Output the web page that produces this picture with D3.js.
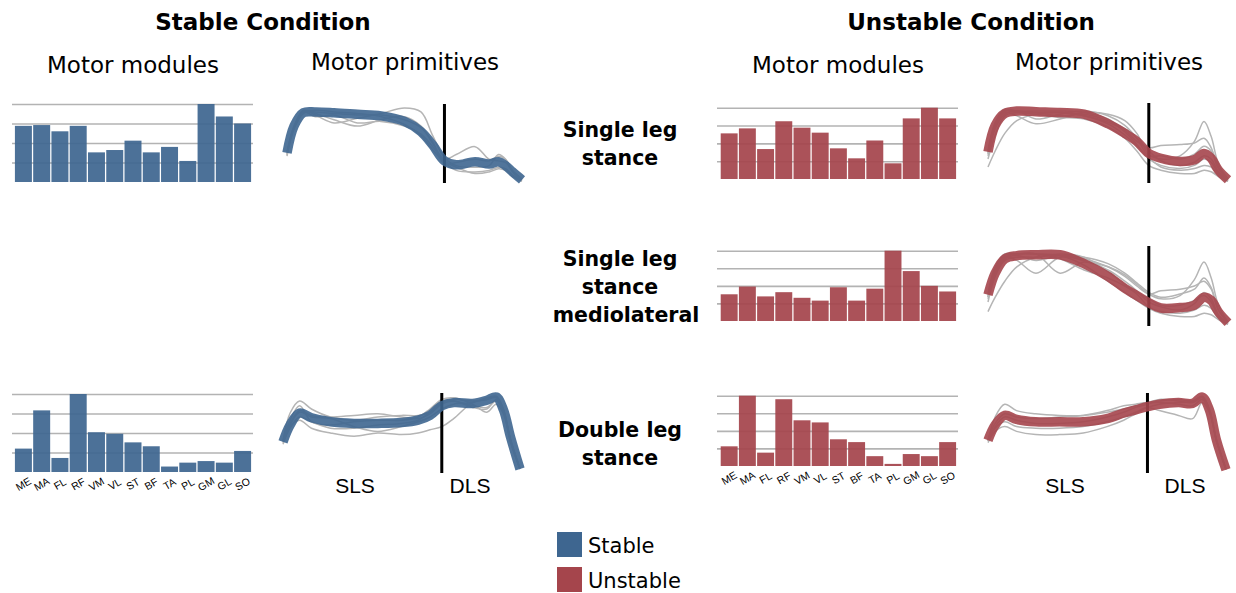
<!DOCTYPE html>
<html>
<head>
<meta charset="utf-8">
<script src="https://cdn.jsdelivr.net/npm/d3@7"></script>
<style>
  body { margin: 0; background: #fff; }
  text { fill: #000; }
</style>
</head>
<body>
<script>
// muscle names on the module bars
const muscles = ["ME","MA","FL","RF","VM","VL","ST","BF","TA","PL","GM","GL","SO"];

// motor module weights (max = 1)
const stableSLSModules   = [0.72,0.73,0.65,0.72,0.38,0.41,0.53,0.38,0.45,0.27,1.00,0.84,0.75];
const stableDLSModules   = [0.30,0.79,0.18,1.00,0.51,0.49,0.38,0.33,0.07,0.12,0.14,0.12,0.27];
const unstableSLSModules = [0.64,0.71,0.42,0.81,0.72,0.65,0.43,0.29,0.54,0.22,0.85,1.00,0.85];
const unstableMLModules  = [0.38,0.49,0.35,0.41,0.33,0.29,0.48,0.29,0.46,1.00,0.71,0.50,0.42];
const unstableDLSModules = [0.28,1.00,0.19,0.95,0.65,0.62,0.38,0.34,0.14,0.03,0.17,0.14,0.34];

// normalised time for the motor primitives, SLS -> DLS switch
const timeGrid = [0,0.03,0.07,0.12,0.2,0.3,0.4,0.5,0.57,0.62,0.67,0.72,0.8,0.86,0.9,0.93,0.96,1.0];
const phaseSwitch = 0.67;

// mean primitives
const stableSLSPrimitive   = [0.38,0.72,0.89,0.90,0.89,0.87,0.85,0.78,0.65,0.48,0.28,0.23,0.27,0.24,0.27,0.22,0.14,0.04];
const stableDLSPrimitive   = [0.39,0.60,0.75,0.69,0.64,0.62,0.62,0.63,0.66,0.72,0.84,0.88,0.87,0.91,0.95,0.79,0.45,0.05];
const unstableSLSPrimitive = [0.39,0.72,0.87,0.90,0.89,0.88,0.86,0.74,0.62,0.52,0.37,0.31,0.27,0.29,0.37,0.31,0.16,0.04];
const unstableMLPrimitive  = [0.39,0.66,0.84,0.88,0.89,0.89,0.78,0.62,0.47,0.38,0.29,0.225,0.23,0.26,0.36,0.32,0.175,0.04];
const unstableDLSPrimitive = [0.41,0.60,0.72,0.67,0.64,0.64,0.64,0.68,0.75,0.79,0.83,0.86,0.88,0.87,0.95,0.79,0.41,0.04];

// single-subject primitives (grey)
const stableSLSTrials = [
  [0.36,0.70,0.90,0.88,0.80,0.72,0.80,0.84,0.72,0.50,0.30,0.36,0.46,0.30,0.28,0.26,0.15,0.05],
  [0.40,0.72,0.92,0.86,0.76,0.82,0.88,0.95,0.90,0.60,0.32,0.22,0.20,0.22,0.36,0.30,0.14,0.04],
  [0.34,0.68,0.88,0.92,0.90,0.88,0.84,0.74,0.60,0.42,0.26,0.16,0.14,0.16,0.20,0.18,0.10,0.03],
  [0.38,0.70,0.90,0.84,0.86,0.76,0.78,0.72,0.62,0.46,0.28,0.20,0.12,0.14,0.18,0.16,0.08,0.02],
  [0.36,0.72,0.91,0.90,0.88,0.86,0.86,0.80,0.70,0.52,0.24,0.26,0.30,0.28,0.34,0.30,0.16,0.05]
];
const stableDLSTrials = [
  [0.40,0.75,0.90,0.80,0.70,0.66,0.70,0.72,0.72,0.76,0.88,0.92,0.90,0.92,0.95,0.80,0.42,0.05],
  [0.38,0.58,0.66,0.56,0.50,0.46,0.50,0.48,0.50,0.54,0.58,0.68,0.88,0.92,0.94,0.78,0.40,0.05],
  [0.40,0.62,0.78,0.72,0.70,0.72,0.74,0.70,0.68,0.74,0.86,0.90,0.82,0.80,0.92,0.78,0.42,0.06],
  [0.36,0.56,0.70,0.64,0.56,0.56,0.60,0.62,0.66,0.76,0.90,0.90,0.84,0.82,0.90,0.76,0.40,0.05],
  [0.38,0.60,0.76,0.70,0.68,0.58,0.52,0.58,0.64,0.70,0.80,0.86,0.88,0.94,0.96,0.80,0.42,0.06],
  [0.40,0.66,0.84,0.64,0.60,0.64,0.66,0.66,0.70,0.80,0.92,0.94,0.86,0.76,0.86,0.74,0.38,0.05]
];
const unstableSLSTrials = [
  [0.20,0.40,0.62,0.78,0.86,0.88,0.84,0.76,0.66,0.52,0.44,0.47,0.48,0.50,0.56,0.44,0.20,0.05],
  [0.36,0.70,0.88,0.84,0.74,0.80,0.88,0.86,0.78,0.62,0.36,0.30,0.34,0.52,0.77,0.58,0.24,0.05],
  [0.38,0.74,0.90,0.88,0.86,0.82,0.80,0.70,0.56,0.40,0.22,0.16,0.12,0.12,0.16,0.14,0.08,0.02],
  [0.40,0.76,0.92,0.90,0.90,0.90,0.88,0.80,0.64,0.48,0.30,0.22,0.18,0.22,0.30,0.26,0.12,0.03],
  [0.34,0.68,0.86,0.90,0.80,0.86,0.90,0.84,0.72,0.56,0.34,0.34,0.30,0.36,0.46,0.40,0.18,0.04],
  [0.30,0.60,0.84,0.88,0.88,0.84,0.86,0.78,0.68,0.56,0.40,0.28,0.22,0.26,0.34,0.30,0.14,0.03],
  [0.38,0.72,0.90,0.90,0.88,0.88,0.84,0.74,0.60,0.46,0.32,0.20,0.16,0.18,0.22,0.20,0.10,0.02]
];
const unstableMLTrials = [
  [0.18,0.36,0.56,0.74,0.86,0.88,0.84,0.74,0.62,0.50,0.40,0.44,0.46,0.50,0.56,0.46,0.20,0.05],
  [0.36,0.70,0.86,0.82,0.66,0.86,0.82,0.74,0.64,0.52,0.40,0.34,0.38,0.58,0.80,0.60,0.26,0.05],
  [0.38,0.72,0.88,0.90,0.90,0.88,0.76,0.56,0.42,0.32,0.22,0.16,0.12,0.12,0.16,0.14,0.08,0.02],
  [0.40,0.74,0.90,0.90,0.90,0.66,0.80,0.70,0.56,0.44,0.30,0.24,0.20,0.28,0.42,0.34,0.14,0.03],
  [0.34,0.66,0.84,0.88,0.82,0.88,0.86,0.78,0.66,0.54,0.42,0.36,0.40,0.46,0.60,0.48,0.20,0.04],
  [0.36,0.68,0.86,0.90,0.90,0.84,0.70,0.60,0.50,0.40,0.24,0.18,0.16,0.20,0.26,0.22,0.10,0.02],
  [0.30,0.62,0.82,0.86,0.86,0.90,0.86,0.68,0.52,0.42,0.34,0.26,0.26,0.32,0.38,0.30,0.12,0.03]
];
const unstableDLSTrials = [
  [0.40,0.70,0.86,0.78,0.74,0.72,0.72,0.76,0.80,0.84,0.88,0.92,0.90,0.88,0.94,0.78,0.40,0.04],
  [0.38,0.52,0.58,0.52,0.48,0.48,0.50,0.58,0.66,0.74,0.82,0.86,0.88,0.90,0.95,0.80,0.42,0.05],
  [0.40,0.56,0.64,0.58,0.56,0.56,0.58,0.64,0.70,0.76,0.82,0.78,0.72,0.68,0.88,0.76,0.40,0.04],
  [0.42,0.62,0.74,0.70,0.68,0.70,0.72,0.78,0.84,0.86,0.88,0.88,0.86,0.84,0.92,0.78,0.40,0.05],
  [0.40,0.58,0.70,0.66,0.62,0.62,0.64,0.70,0.76,0.82,0.86,0.90,0.92,0.90,0.96,0.80,0.42,0.05]
];

const stableColor = "#3e6690";
const unstableColor = "#a5454c";

const svg = d3.select("body").append("svg")
    .attr("width", 1236)
    .attr("height", 593)
    .style("font-family", "'DejaVu Sans', Verdana, sans-serif");

function drawModules(values, box, color, showLabels) {
    const x = d3.scaleBand()
        .domain(muscles)
        .range([box.x0, box.x1])
        .paddingInner(0.07)
        .paddingOuter(0.05);
    const y = d3.scaleLinear().domain([0, 1]).range([box.base, box.top]);

    const g = svg.append("g");
    g.append("g")
        .attr("transform", `translate(${box.gx0},0)`)
        .call(d3.axisLeft(y)
            .tickValues([0.25, 0.5, 0.75, 1])
            .tickSize(-(box.gx1 - box.gx0))
            .tickFormat(""))
        .call(a => a.select(".domain").remove())
        .call(a => a.selectAll("line").attr("stroke", "#b3b3b3").attr("stroke-width", 1.6));

    g.selectAll("rect")
        .data(values)
        .enter()
        .append("rect")
        .attr("x", (d, i) => x(muscles[i]))
        .attr("width", x.bandwidth())
        .attr("y", d => y(d))
        .attr("height", d => y(0) - y(d))
        .attr("fill", color)
        .attr("fill-opacity", 0.93);

    if (showLabels) {
        g.append("g")
            .attr("transform", `translate(0,${box.base})`)
            .call(d3.axisBottom(x).tickSize(0))
            .call(a => a.select(".domain").remove())
            .selectAll("text")
            .attr("y", 0)
            .attr("dy", "0.35em")
            .attr("transform", "translate(0,12) rotate(-30)")
            .attr("text-anchor", "middle")
            .style("font-family", "'Liberation Sans', Arial, sans-serif")
            .style("font-size", "10.5px")
            .attr("fill", "#000");
    }
}

function drawPrimitive(mean, trials, box, color) {
    const x = d3.scaleLinear().domain([0, 1]).range([box.x0, box.x1]);
    const y = d3.scaleLinear().domain([0, 1]).range([box.bottom, box.top]);
    const line = d3.line()
        .x((d, i) => x(timeGrid[i]))
        .y(d => y(d))
        .curve(d3.curveCatmullRom.alpha(0.5));

    const g = svg.append("g");
    g.selectAll("path.trial")
        .data(trials)
        .enter()
        .append("path")
        .attr("class", "trial")
        .attr("d", line)
        .attr("fill", "none")
        .attr("stroke", "#b5b5b5")
        .attr("stroke-width", 1.5);

    g.append("line")
        .attr("x1", x(phaseSwitch)).attr("x2", x(phaseSwitch))
        .attr("y1", y(1)).attr("y2", y(0))
        .attr("stroke", "#000")
        .attr("stroke-width", 3);

    g.append("path")
        .attr("d", line(mean))
        .attr("fill", "none")
        .attr("stroke", color)
        .attr("stroke-opacity", 0.9)
        .attr("stroke-width", 9.5);
}

// stable column
drawModules(stableSLSModules, {x0: 14, x1: 252, gx0: 12, gx1: 253, top: 104, base: 182}, stableColor, false);
drawModules(stableDLSModules, {x0: 14, x1: 252, gx0: 12, gx1: 253, top: 394, base: 472}, stableColor, true);
drawPrimitive(stableSLSPrimitive, stableSLSTrials, {x0: 287, x1: 522, top: 104, bottom: 183}, stableColor);
drawPrimitive(stableDLSPrimitive, stableDLSTrials, {x0: 283, x1: 520, top: 393, bottom: 473}, stableColor);

// unstable column
drawModules(unstableSLSModules, {x0: 719.8, x1: 957, gx0: 717, gx1: 958, top: 107.7, base: 179}, unstableColor, false);
drawModules(unstableMLModules,  {x0: 719.8, x1: 957, gx0: 717, gx1: 958, top: 250.7, base: 321}, unstableColor, false);
drawModules(unstableDLSModules, {x0: 719.8, x1: 957, gx0: 717, gx1: 958, top: 395.7, base: 466}, unstableColor, true);
drawPrimitive(unstableSLSPrimitive, unstableSLSTrials, {x0: 988, x1: 1228, top: 103, bottom: 183}, unstableColor);
drawPrimitive(unstableMLPrimitive,  unstableMLTrials,  {x0: 988, x1: 1228, top: 246, bottom: 326}, unstableColor);
drawPrimitive(unstableDLSPrimitive, unstableDLSTrials, {x0: 988, x1: 1226, top: 393, bottom: 473}, unstableColor);

// headings
const headings = [
    {t: "Stable Condition", x: 263, y: 30, size: 23, bold: true},
    {t: "Unstable Condition", x: 971, y: 30, size: 23, bold: true},
    {t: "Motor modules", x: 133, y: 73, size: 23},
    {t: "Motor primitives", x: 405, y: 70, size: 23},
    {t: "Motor modules", x: 838, y: 73, size: 23},
    {t: "Motor primitives", x: 1109, y: 70, size: 23},
    {t: "Single leg", x: 620, y: 137, size: 20.5, bold: true},
    {t: "stance", x: 620, y: 165, size: 20.5, bold: true},
    {t: "Single leg", x: 620, y: 266, size: 20.5, bold: true},
    {t: "stance", x: 620, y: 294, size: 20.5, bold: true},
    {t: "mediolateral", x: 626, y: 322, size: 20.5, bold: true},
    {t: "Double leg", x: 620, y: 437, size: 20.5, bold: true},
    {t: "stance", x: 620, y: 465, size: 20.5, bold: true}
];
svg.selectAll("text.heading")
    .data(headings)
    .enter()
    .append("text")
    .attr("class", "heading")
    .attr("x", d => d.x)
    .attr("y", d => d.y)
    .attr("text-anchor", "middle")
    .style("font-size", d => d.size + "px")
    .style("font-weight", d => d.bold ? "bold" : "normal")
    .text(d => d.t);

// phase labels
const phaseLabels = [
    {t: "SLS", x: 355}, {t: "DLS", x: 470},
    {t: "SLS", x: 1065}, {t: "DLS", x: 1185}
];
svg.selectAll("text.phase")
    .data(phaseLabels)
    .enter()
    .append("text")
    .attr("class", "phase")
    .attr("x", d => d.x)
    .attr("y", 493)
    .attr("text-anchor", "middle")
    .style("font-family", "'Liberation Sans', Arial, sans-serif")
    .style("font-size", "21px")
    .text(d => d.t);

// legend
const legendItems = [
    {label: "Stable", color: stableColor},
    {label: "Unstable", color: unstableColor}
];
const legend = svg.selectAll("g.legend")
    .data(legendItems)
    .enter()
    .append("g")
    .attr("class", "legend")
    .attr("transform", (d, i) => `translate(557,${532 + i * 35})`);
legend.append("rect")
    .attr("width", 25)
    .attr("height", 25)
    .attr("fill", d => d.color);
legend.append("text")
    .attr("x", 31)
    .attr("y", 21)
    .style("font-size", "21px")
    .text(d => d.label);
</script>
</body>
</html>
